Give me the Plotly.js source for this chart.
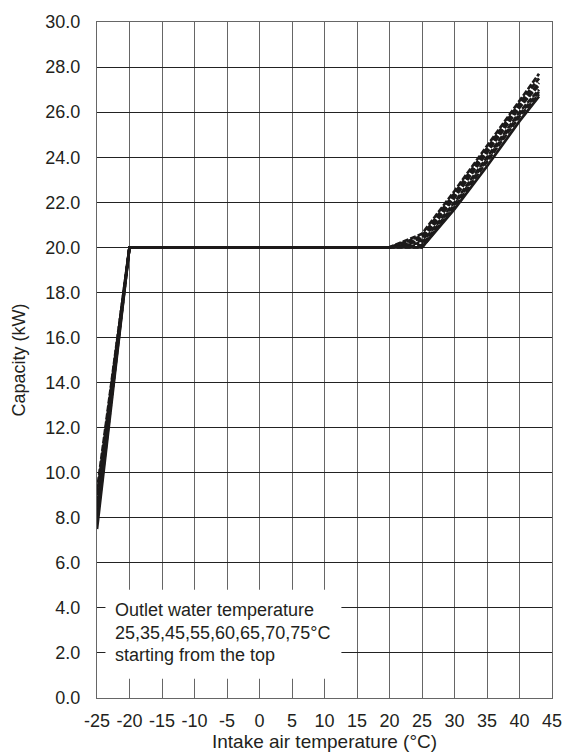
<!DOCTYPE html>
<html>
<head>
<meta charset="utf-8">
<script src="https://cdn.plot.ly/plotly-3.0.1.min.js"></script>
<style>
  html, body { margin: 0; padding: 0; background: #fff; }
  #chart { width: 564px; height: 754px; }
</style>
</head>
<body>
<div id="chart"></div>
<script>
// Intake air temperature (°C) sample points
const intakeTemp = [-25, -20, 20, 25, 30, 35, 40, 43];

// Outlet water temperatures, one curve each (top curve first)
const outletTemps = [25, 35, 45, 55, 60, 65, 70, 75];

// Heating capacity (kW) for each outlet water temperature
const cap25 = [9.2, 20.0, 20.0, 20.6, 22.5, 24.5, 26.5, 27.7];
const cap35 = [9.0, 20.0, 20.0, 20.5, 22.4, 24.4, 26.4, 27.5];
const cap45 = [8.7, 20.0, 20.0, 20.4, 22.3, 24.3, 26.3, 27.3];
const cap55 = [8.4, 20.0, 20.0, 20.3, 22.2, 24.2, 26.2, 27.2];
const cap60 = [8.2, 20.0, 20.0, 20.2, 22.0, 24.0, 26.0, 27.0];
const cap65 = [8.0, 20.0, 20.0, 20.1, 21.9, 23.9, 25.9, 26.9];
const cap70 = [7.8, 20.0, 20.0, 20.0, 21.8, 23.8, 25.8, 26.8];
const cap75 = [7.5, 20.0, 20.0, 20.0, 21.7, 23.6, 25.6, 26.7];
const capacities = [cap25, cap35, cap45, cap55, cap60, cap65, cap70, cap75];

// Axis tick labels
const xTickVals = [-25, -20, -15, -10, -5, 0, 5, 10, 15, 20, 25, 30, 35, 40, 45];
const yTickVals = [0, 2, 4, 6, 8, 10, 12, 14, 16, 18, 20, 22, 24, 26, 28, 30];
const yTickText = yTickVals.map(v => v.toFixed(1));

// Note text lines
const noteLines = [
  'Outlet water temperature',
  '25,35,45,55,60,65,70,75°C',
  'starting from the top'
];
const noteY = [3.9, 2.9, 1.9];

const FONT = '"Liberation Sans", Arial, Helvetica, sans-serif';
const dashes = ['6px,2px', '6px,2px', '6px,2px', '6px,2px', '6px,2px', '6px,2px', '6px,2px', 'solid'];

const traces = capacities.map((c, i) => ({
  type: 'scatter',
  mode: 'lines',
  name: outletTemps[i] + '°C',
  x: intakeTemp,
  y: c,
  line: { color: '#1c1a1a', width: 2.7, dash: dashes[i] },
  showlegend: false,
  hoverinfo: 'skip'
}));

const layout = {
  width: 564,
  height: 754,
  margin: { l: 97, r: 12, t: 22, b: 56 },
  paper_bgcolor: '#fff',
  plot_bgcolor: '#fff',
  font: { family: FONT, size: 18, color: '#231f20' },
  xaxis: {
    range: [-25, 45],
    tickvals: xTickVals,
    ticktext: xTickVals.map(String),
    showgrid: true,
    gridcolor: '#666',
    gridwidth: 1,
    zeroline: false,
    showline: true,
    linecolor: '#666',
    linewidth: 1,
    mirror: true,
    ticks: '',
    ticklabelstandoff: 6,
    tickfont: { family: FONT, size: 18, color: '#231f20' },
    title: { text: 'Intake air temperature (°C)', font: { family: FONT, size: 19, color: '#231f20' }, standoff: 5 }
  },
  yaxis: {
    range: [0, 30],
    tickvals: yTickVals,
    ticktext: yTickText,
    showgrid: true,
    gridcolor: '#222',
    gridwidth: 1,
    zeroline: false,
    showline: true,
    linecolor: '#666',
    linewidth: 1,
    mirror: true,
    ticks: '',
    ticklabelstandoff: 12,
    tickfont: { family: FONT, size: 18, color: '#231f20' },
    title: { text: 'Capacity (kW)', font: { family: FONT, size: 18, color: '#231f20' }, standoff: 15 }
  },
  shapes: [{
    type: 'rect',
    xref: 'x', yref: 'y',
    x0: -23.7, x1: 12.6, y0: 0.85, y1: 4.8,
    fillcolor: '#fff',
    line: { width: 0 },
    layer: 'above'
  }],
  annotations: noteLines.map((t, i) => ({
    xref: 'x', yref: 'y',
    x: -22.6, y: noteY[i],
    xanchor: 'left', yanchor: 'middle',
    text: t,
    showarrow: false,
    font: { family: FONT, size: 18, color: '#231f20' }
  }))
};

Plotly.newPlot('chart', traces, layout, { staticPlot: true, displayModeBar: false });
</script>
</body>
</html>
